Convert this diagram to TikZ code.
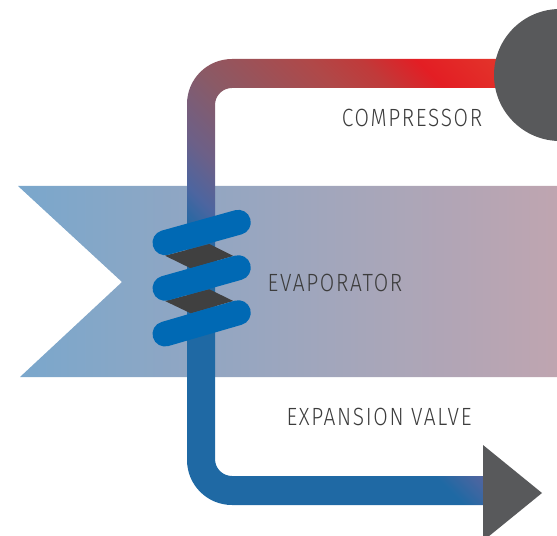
\documentclass[tikz,border=0pt]{standalone}
\usepackage{fontspec}
\setmainfont{Fira Sans}[UprightFont={* Light},FakeStretch=0.84,LetterSpace=6.7]
\definecolor{bandL}{HTML}{7AA7CC}
\definecolor{bandM}{HTML}{A6A5BC}
\definecolor{bandR}{HTML}{BFA5B0}
\definecolor{coilblue}{HTML}{0069B4}
\definecolor{coildark}{HTML}{404040}
\definecolor{devicegrey}{HTML}{58595B}
\definecolor{labelgrey}{HTML}{3C3C3C}
\definecolor{ga}{HTML}{1F69A4}
\definecolor{gb}{HTML}{4C65A0}
\definecolor{gc}{HTML}{6C6088}
\definecolor{gd}{HTML}{8A5A66}
\definecolor{ge}{HTML}{B04848}
\definecolor{gf}{HTML}{C03A3A}
\definecolor{gg}{HTML}{E31E24}
\definecolor{gh}{HTML}{E3322A}
\pgfdeclarehorizontalshading{pipegrad}{900bp}{
 color(0bp)=(ga);
 color(325bp)=(ga);
 color(354bp)=(gb);
 color(389bp)=(gc);
 color(445bp)=(gd);
 color(530bp)=(ge);
 color(566bp)=(gf);
 color(606bp)=(gg);
 color(658bp)=(gh);
 color(778bp)=(gh)}
\tikzset{
 capsule/.style={line width=25bp,line cap=round,draw=coilblue},
 webbing/.style={fill=coildark},
 device/.style={fill=devicegrey},
 lbl/.style={text=labelgrey,font=\fontsize{25}{27}\selectfont,inner sep=0pt}
}
\begin{document}
\begin{tikzpicture}[x=1bp,y=-1bp]
\useasboundingbox (0,0) rectangle (557,536);
\clip (0,0) rectangle (557,536);
% band
\shade[left color=bandL,middle color=bandM,right color=bandR] (18,186) -- (557,186) -- (557,377) -- (20,377) -- (122,282) -- cycle;
% pipe with one diagonal gradient
\begin{scope}
\clip (500,59) -- (232,59) .. controls (207.1,59) and (187,79.1) .. (187,104)
 -- (187,460) .. controls (187,484.9) and (207.1,505) .. (232,505)
 -- (490,505) -- (490,476) -- (232,476) .. controls (222.6,476) and (215,468.4) .. (215,459)
 -- (215,105) .. controls (215,95.6) and (222.6,88) .. (232,88) -- (500,88) -- cycle;
\pgftransformshift{\pgfpoint{300bp}{-250bp}}
\pgftransformrotate{45}
\pgftext{\pgfuseshading{pipegrad}}
\end{scope}
% coil
\fill[webbing] (165,255.7) -- (209.3,244) -- (233.3,256) -- (190.7,268.3) -- cycle;
\fill[webbing] (165,301) -- (209.3,289.3) -- (233.3,301) -- (190.7,313.3) -- cycle;
\draw[capsule] (165,242.7) -- (238.3,222.3);
\draw[capsule] (165,288.3) -- (238.3,267.7);
\draw[capsule] (165,334) -- (238.3,312.7);
% compressor and valve
\fill[device] (560,75) circle (66);
\fill[device] (483,445) -- (542,493) -- (483,541) -- cycle;
% labels
\node[lbl] (compressor) at (412,118) {COMPRESSOR};
\node[lbl] (evaporator) at (335,283) {EVAPORATOR};
\node[lbl] (valve) at (379,417) {EXPANSION VALVE};
\end{tikzpicture}
\end{document}
